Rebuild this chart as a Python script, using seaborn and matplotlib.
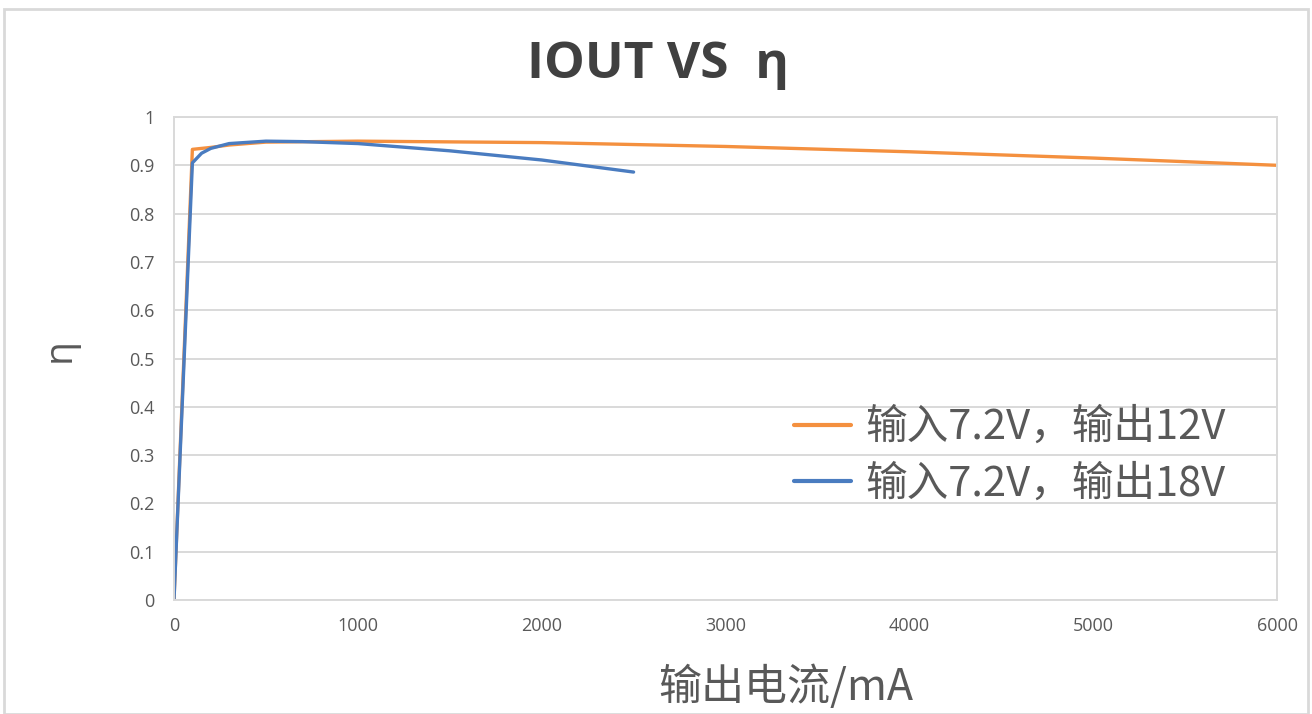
import matplotlib
matplotlib.use("Agg")
import matplotlib.pyplot as plt
import seaborn as sns
import pandas as pd
from matplotlib.patches import Rectangle

# Efficiency vs output current, input 7.2 V
current_12v = [0, 100, 200, 300, 500, 1000, 2000, 3000, 4000, 5000, 6000]
eta_12v = [0, 0.933, 0.937, 0.942, 0.948, 0.950, 0.947, 0.939, 0.928, 0.915, 0.900]

current_18v = [0, 100, 150, 200, 300, 500, 700, 1000, 1500, 2000, 2500]
eta_18v = [0, 0.905, 0.925, 0.935, 0.945, 0.950, 0.949, 0.945, 0.930, 0.911, 0.886]

series_names = ["输入7.2V，输出12V", "输入7.2V，输出18V"]
series_colors = ["#F4903F", "#4A7CC0"]

x_ticks = [0, 1000, 2000, 3000, 4000, 5000, 6000]
y_ticks = [0, 0.1, 0.2, 0.3, 0.4, 0.5, 0.6, 0.7, 0.8, 0.9, 1]
y_tick_labels = ["0", "0.1", "0.2", "0.3", "0.4", "0.5", "0.6", "0.7", "0.8", "0.9", "1"]

df = pd.concat([
    pd.DataFrame({"current": current_12v, "eta": eta_12v, "series": series_names[0]}),
    pd.DataFrame({"current": current_18v, "eta": eta_18v, "series": series_names[1]}),
], ignore_index=True)

sns.set_theme(style="white")
plt.rcParams["font.family"] = ["Open Sans", "Noto Sans CJK SC", "DejaVu Sans"]

fig = plt.figure(figsize=(13.12, 7.14), dpi=100)
ax = fig.add_axes([174 / 1312, 1 - 600 / 714, (1277 - 174) / 1312, (600 - 117) / 714])

# outer chart frame
fig.patches.append(Rectangle((4 / 1312, 0), 1304 / 1312, 1 - 9 / 714,
                             transform=fig.transFigure, fill=False,
                             edgecolor="#D9D9D9", linewidth=2, zorder=0))

sns.lineplot(data=df, x="current", y="eta", hue="series", hue_order=series_names,
             palette=series_colors, estimator=None, sort=False, linewidth=2.4,
             ax=ax)

ax.set_xlim(0, 6000)
ax.set_ylim(0, 1)
ax.set_xticks(x_ticks)
ax.set_xticklabels([str(t) for t in x_ticks])
ax.set_yticks(y_ticks)
ax.set_yticklabels(y_tick_labels)
ax.tick_params(axis="both", length=0, labelsize=13, colors="#595959")
ax.tick_params(axis="x", pad=12)
ax.tick_params(axis="y", pad=14)
ax.grid(axis="y", color="#D9D9D9", linewidth=1.4)
ax.set_axisbelow(True)
for s in ax.spines.values():
    s.set_color("#D9D9D9")
    s.set_linewidth(1.4)

ax.set_xlabel("输出电流/mA", fontsize=31, color="#595959",
              family=["Noto Sans CJK SC", "DejaVu Sans"])
ax.xaxis.set_label_coords((786 - 174) / 1103, (600 - 688) / 483)
ax.xaxis.label.set_va("center")
ax.set_ylabel("η", fontsize=28, color="#595959")
ax.yaxis.set_label_coords((60 - 174) / 1103, (600 - 350) / 483)
ax.yaxis.label.set_ha("center")
ax.yaxis.label.set_va("center")

fig.text(658 / 1312, 1 - 65 / 714, "IOUT VS  η", ha="center", va="center",
         fontsize=37, fontweight="bold", color="#404040")

leg = ax.legend(loc="center left", bbox_to_anchor=((773 - 174) / 1103, 0.298),
                frameon=False, borderpad=0, handlelength=1.37, handletextpad=0.35,
                labelspacing=0.38, labelcolor="#595959",
                prop={"family": ["Noto Sans CJK SC", "DejaVu Sans"], "size": 30})
for line in leg.get_lines():
    line.set_linewidth(3)

fig.savefig("out.png", dpi=100)
